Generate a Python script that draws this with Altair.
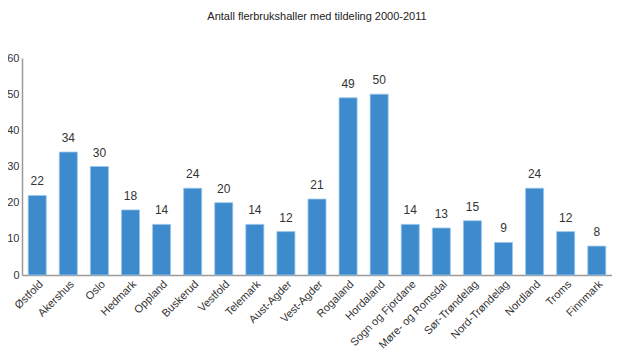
import altair as alt
import pandas as pd

fylker = ["Østfold", "Akershus", "Oslo", "Hedmark", "Oppland", "Buskerud", "Vestfold",
          "Telemark", "Aust-Agder", "Vest-Agder", "Rogaland", "Hordaland",
          "Sogn og Fjordane", "Møre- og Romsdal", "Sør-Trøndelag", "Nord-Trøndelag",
          "Nordland", "Troms", "Finnmark"]
antall = [22, 34, 30, 18, 14, 24, 20, 14, 12, 21, 49, 50, 14, 13, 15, 9, 24, 12, 8]
y_ticks = [0, 10, 20, 30, 40, 50, 60]

df = pd.DataFrame({"fylke": fylker, "antall": antall})

x = alt.X("fylke:N", sort=fylker, title=None,
          scale=alt.Scale(paddingInner=0.42, paddingOuter=0.2),
          axis=alt.Axis(labelAngle=-45, labelAlign="right", labelBaseline="top",
                        labelFontSize=11, labelColor="#333333", labelFont="Liberation Sans",
                        ticks=False, domainColor="#9a9a9a", domainWidth=1.5, labelPadding=3,
                        labelLimit=300))
y = alt.Y("antall:Q", title=None,
          scale=alt.Scale(domain=[0, 60], nice=False),
          axis=alt.Axis(values=y_ticks, grid=False, ticks=False, labelOverlap=False,
                        labelFlush=False, tickCount=7,
                        labelFontSize=11, labelColor="#333333", labelFont="Liberation Sans",
                        domainColor="#9a9a9a", domainWidth=1.5, labelPadding=3))

bars = alt.Chart(df).mark_bar(color="#3d8bcd", stroke="#9cc6ea", strokeWidth=0.8).encode(x=x, y=y)
text = alt.Chart(df).mark_text(baseline="bottom", dy=-7, fontSize=12,
                               font="Liberation Sans", color="#333333").encode(
    x=x, y=y, text="antall:Q")

chart = (bars + text).properties(
    width=590, height=217,
    autosize=alt.AutoSizeParams(type="none"),
    padding={"left": 14, "top": 50, "right": 0, "bottom": 88},
    title=alt.Title("Antall flerbrukshaller med tildeling 2000-2011", fontSize=11,
                    fontWeight="normal", font="Liberation Sans", color="#222222", offset=30),
).configure_view(stroke=None)

chart.save("out.html", embed_options={"renderer": "svg", "actions": False})
